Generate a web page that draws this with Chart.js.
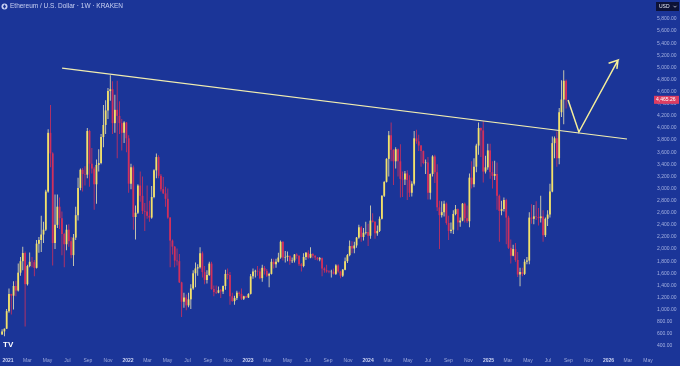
<!DOCTYPE html>
<html>
<head>
<meta charset="utf-8">
<script src="https://cdn.jsdelivr.net/npm/chart.js@4.4.1/dist/chart.umd.min.js"></script>
<style>
  html, body { margin: 0; padding: 0; background: #1b3598; }
  canvas { display: block; }
</style>
</head>
<body>
<canvas id="chart" width="680" height="366"></canvas>
<script>
// weekly ETH/USD candles (Kraken), first bar = week of 14 Dec 2020
const firstWeek = Date.UTC(2020, 11, 14);
const axisStart = Date.UTC(2021, 0, 1);
const firstOpen = 590;

const closes = [
  640, 685, 975,
  // 2021
  1260, 1230, 1390, 1315, 1610, 1800, 1935, 1420, 1720, 1790, 1785, 1690, 2090, 2150, 2240, 2320, 2950, 3920,
  3580, 2100, 2400, 2700, 2510, 2250, 2080, 2320, 2130, 1900, 2190, 2560, 3010, 3310, 3240, 3230, 3950, 3410,
  3330, 3070, 3390, 3420, 3850, 4050, 4290, 4610, 4640, 4080, 4300, 4200, 4080, 3920, 4090, 3830,
  // 2022
  3080, 3350, 2530, 2600, 3050, 2880, 2630, 2620, 2550, 2520, 2860, 3300, 3520, 3210, 2990, 2920, 2830, 2520,
  2140, 2040, 1810, 1800, 1450, 1130, 1200, 1070, 1170, 1350, 1600, 1680, 1700, 1930, 1620, 1490, 1570, 1760,
  1340, 1290, 1280, 1320, 1300, 1390, 1590, 1570, 1220, 1140, 1190, 1280, 1260, 1180, 1220, 1200,
  // 2023
  1260, 1550, 1630, 1640, 1630, 1520, 1690, 1640, 1560, 1590, 1790, 1750, 1790, 1860, 2120, 1860, 1870, 1890,
  1800, 1810, 1910, 1890, 1750, 1720, 1870, 1940, 1860, 1920, 1890, 1860, 1830, 1850, 1680, 1650, 1630, 1620,
  1625, 1590, 1730, 1630, 1560, 1660, 1800, 1900, 2050, 2010, 2060, 2190, 2360, 2200, 2270, 2280,
  // 2024
  2220, 2470, 2450, 2260, 2300, 2500, 2880, 3110, 3490, 3880, 3640, 3450, 3650, 3450, 3160, 3150, 3250, 3140,
  2930, 3080, 3830, 3780, 3710, 3620, 3420, 3430, 2930, 3240, 3530, 3270, 2690, 2560, 2610, 2750, 2430, 2300,
  2320, 2580, 2660, 2440, 2470, 2750, 2510, 2460, 3180, 3070, 3360, 3710, 4000, 3960, 3280, 3350, 3630,
  // 2025
  3270, 3210, 3240, 2880, 2630, 2660, 2810, 2520, 2020, 1890, 2000, 1820, 1580, 1620, 1590, 1790, 1810, 2520,
  2500, 2540, 2530, 2510, 2540, 2230, 2500, 2570, 2950, 3750, 3830, 3500, 4260, 4470, 4780, 4465.26
];

const highs = [
  675, 690, 1010,
  1350, 1260, 1470, 1475, 1760, 1870, 2040, 1960, 1740, 1945, 1870, 1820, 2150, 2200, 2550, 2450, 2980, 3980,
  4380, 3600, 2900, 2900, 2850, 2620, 2270, 2400, 2410, 2200, 2250, 2700, 3180, 3330, 3340, 3370, 4000, 3970,
  3670, 3360, 3480, 3650, 3900, 4380, 4460, 4660, 4870, 4770, 4550, 4780, 4440, 4150, 4110, 4100,
  3880, 3410, 3380, 2720, 3070, 3280, 3200, 2760, 3050, 2800, 3040, 3320, 3580, 3550, 3240, 3190, 3030, 3000,
  2530, 2160, 2050, 2010, 1920, 1460, 1280, 1250, 1280, 1420, 1650, 1780, 1750, 2030, 1960, 1720, 1650, 1790,
  1790, 1400, 1400, 1380, 1340, 1400, 1660, 1680, 1620, 1280, 1230, 1310, 1300, 1350, 1230, 1230,
  1270, 1590, 1680, 1660, 1720, 1680, 1740, 1720, 1670, 1610, 1840, 1840, 1840, 1940, 2140, 2130, 1970, 1960,
  1890, 1860, 1920, 1930, 1900, 1770, 1930, 1950, 1980, 2030, 1930, 1900, 1870, 1870, 1860, 1700, 1740, 1650,
  1660, 1680, 1750, 1750, 1640, 1670, 1860, 1920, 2140, 2130, 2120, 2200, 2400, 2380, 2350, 2450,
  2420, 2720, 2590, 2460, 2390, 2540, 2890, 3120, 3500, 3950, 4090, 3650, 3680, 3660, 3730, 3280, 3290, 3300,
  3220, 3120, 3950, 3970, 3890, 3720, 3630, 3480, 3520, 3250, 3550, 3560, 3400, 2800, 2790, 2800, 2770, 2550,
  2440, 2640, 2730, 2670, 2520, 2760, 2770, 2720, 3250, 3450, 3500, 3740, 4090, 4010, 4110, 3540, 3740,
  3740, 3450, 3460, 3430, 2900, 2800, 2850, 2830, 2550, 2160, 2070, 2100, 1950, 1690, 1690, 1830, 1870, 2610,
  2740, 2730, 2790, 2680, 2880, 2640, 2520, 2640, 3080, 3860, 3860, 3940, 4330, 4790, 4955, 4800
];

const lows = [
  585, 560, 680,
  950, 920, 1000, 1220, 1300, 1560, 1650, 720, 1400, 1700, 1700, 1550, 1680, 1940, 1950, 2100, 2300, 2930,
  3350, 1730, 2000, 2350, 2330, 1900, 1700, 1980, 2040, 1850, 1720, 2150, 2470, 2970, 2950, 3050, 3170, 3030,
  3250, 2650, 2750, 3280, 3400, 3680, 3900, 4150, 4450, 3900, 3920, 3500, 3900, 3630, 3750, 3600,
  2930, 2990, 2320, 2160, 2580, 2780, 2580, 2300, 2500, 2450, 2500, 2840, 3170, 3170, 2950, 2910, 2700, 2500,
  1700, 1910, 1700, 1730, 1440, 880, 1030, 990, 1040, 1010, 1330, 1370, 1560, 1680, 1530, 1420, 1430, 1560,
  1330, 1220, 1260, 1270, 1190, 1260, 1330, 1500, 1080, 1130, 1080, 1160, 1220, 1160, 1160, 1190,
  1190, 1250, 1510, 1530, 1560, 1500, 1460, 1580, 1540, 1370, 1580, 1680, 1690, 1780, 1840, 1810, 1780, 1800,
  1740, 1770, 1780, 1840, 1720, 1630, 1700, 1820, 1840, 1850, 1850, 1820, 1810, 1800, 1550, 1610, 1610, 1600,
  1530, 1580, 1570, 1610, 1520, 1540, 1650, 1770, 1880, 1930, 1930, 2020, 2170, 2120, 2140, 2240,
  2050, 2170, 2440, 2170, 2220, 2280, 2490, 2860, 3100, 3200, 3450, 3060, 3330, 3200, 2850, 2860, 3060, 2810,
  2860, 2870, 3050, 3740, 3620, 3360, 3400, 3240, 2820, 2820, 3200, 3090, 2630, 2000, 2520, 2540, 2400, 2150,
  2260, 2250, 2560, 2310, 2370, 2460, 2440, 2430, 2360, 3000, 3020, 3270, 3560, 3520, 3100, 3250, 3310,
  3160, 3000, 3140, 2650, 2120, 2560, 2620, 2080, 2000, 1760, 1880, 1790, 1540, 1385, 1550, 1570, 1750, 1750,
  2420, 2410, 2480, 2390, 2440, 2120, 2200, 2380, 2520, 2940, 3500, 3360, 3400, 4180, 4060, 4320
];

// bottom axis: one label every two months from Jan 2021
const tickLabels = [
  '2021', 'Mar', 'May', 'Jul', 'Sep', 'Nov',
  '2022', 'Mar', 'May', 'Jul', 'Sep', 'Nov',
  '2023', 'Mar', 'May', 'Jul', 'Sep', 'Nov',
  '2024', 'Mar', 'May', 'Jul', 'Sep', 'Nov',
  '2025', 'Mar', 'May', 'Jul', 'Sep', 'Nov',
  '2026', 'Mar', 'May'
];
const priceTicks = [
  400, 600, 800, 1000, 1200, 1400, 1600, 1800, 2000, 2200, 2400, 2600, 2800, 3000,
  3200, 3400, 3600, 3800, 4000, 4200, 4400, 4600, 4800, 5000, 5200, 5400, 5600, 5800
];

// drawings, in (weeks since 1 Jan 2021, price)
const trendLine = [{ x: 23.5, y: 4990 }, { x: 268.9, y: 3818 }];
const arrowPath = [
  { x: 243.3, y: 4462 }, { x: 248.0, y: 3934 }, { x: 265.0, y: 5123 },
  { x: 260.9, y: 5070 }, { x: 265.0, y: 5123 }, { x: 264.5, y: 4975 }
];

const WEEK = 7 * 864e5;
const UP = '#f3e169';
const UP_WICK = '#ece6b4';
const DOWN = '#d2305c';
const xOf = (t) => (t - axisStart) / WEEK;

const opens = closes.map((c, i) => (i === 0 ? firstOpen : closes[i - 1]));
const isUp = closes.map((c, i) => c >= opens[i]);
const bodyColors = isUp.map((u) => (u ? UP : DOWN));
const wickColors = isUp.map((u) => (u ? UP_WICK : DOWN));
const weekX = closes.map((c, i) => xOf(firstWeek + i * WEEK));
const wickData = closes.map((c, i) => ({ x: weekX[i], y: [lows[i], highs[i]] }));
const bodyData = closes.map((c, i) => ({ x: weekX[i], y: [opens[i], c] }));

const FONT = '"Liberation Sans", Arial, sans-serif';

// labels must not eat into the plot area
function noPadding(s) {
  s.paddingTop = 0;
  s.paddingBottom = 0;
  s.paddingLeft = 0;
  s.paddingRight = 0;
}

const overlay = {
  id: 'overlay',
  afterDraw(chart) {
    const ctx = chart.ctx;
    const yScale = chart.scales.y;
    ctx.save();

    // symbol title
    ctx.fillStyle = '#c9d1f3';
    ctx.beginPath();
    ctx.arc(4.5, 6.5, 3, 0, Math.PI * 2);
    ctx.fill();
    ctx.fillStyle = '#1b3598';
    ctx.beginPath();
    ctx.moveTo(4.5, 4.3); ctx.lineTo(6, 6.6); ctx.lineTo(4.5, 8.7); ctx.lineTo(3, 6.6);
    ctx.closePath();
    ctx.fill();
    ctx.fillStyle = '#c9d1f3';
    ctx.font = '6.5px ' + FONT;
    ctx.textBaseline = 'middle';
    ctx.textAlign = 'left';
    ctx.fillText('Ethereum / U.S. Dollar \u00b7 1W \u00b7 KRAKEN', 10, 6.7);

    // currency box
    ctx.fillStyle = '#0d1236';
    ctx.fillRect(656, 2, 23, 9);
    ctx.fillStyle = '#e6e9f5';
    ctx.font = '5px ' + FONT;
    ctx.fillText('USD', 659, 6.7);
    ctx.strokeStyle = '#e6e9f5';
    ctx.lineWidth = 0.7;
    ctx.beginPath();
    ctx.moveTo(673.5, 5.8); ctx.lineTo(675, 7.3); ctx.lineTo(676.5, 5.8);
    ctx.stroke();

    // last price tag
    const last = closes[closes.length - 1];
    const py = yScale.getPixelForValue(last);
    ctx.fillStyle = '#dc3d62';
    ctx.fillRect(654, py - 4, 25, 8);
    ctx.fillStyle = '#ffffff';
    ctx.font = '5px ' + FONT;
    ctx.fillText(last.toLocaleString('en-US', { minimumFractionDigits: 2 }), 656, py + 0.3);

    // TradingView mark
    ctx.fillStyle = '#ffffff';
    ctx.font = 'bold 8px ' + FONT;
    ctx.fillText('TV', 3, 345);
    ctx.restore();
  }
};

new Chart(document.getElementById('chart'), {
  type: 'bar',
  data: {
    datasets: [
      { type: 'line', data: trendLine, borderColor: '#f2eeb0', borderWidth: 1.2, pointRadius: 0 },
      { type: 'line', data: arrowPath, borderColor: '#f5ee9a', borderWidth: 1.5, pointRadius: 0, borderJoinStyle: 'miter' },
      { data: bodyData, backgroundColor: bodyColors, barThickness: 1.8, grouped: false, inflateAmount: 0, borderWidth: 0 },
      { data: wickData, backgroundColor: wickColors, barThickness: 0.8, grouped: false, inflateAmount: 0, borderWidth: 0 }
    ]
  },
  options: {
    responsive: false,
    animation: false,
    events: [],
    layout: { padding: 0 },
    plugins: { legend: { display: false }, tooltip: { enabled: false } },
    scales: {
      x: {
        type: 'linear',
        min: -3.475,
        max: 269.33,
        offset: false,
        grid: { display: false, drawTicks: false },
        border: { display: false },
        afterBuildTicks: (s) => {
          s.ticks = tickLabels.map((l, k) => ({ value: xOf(Date.UTC(2021, 2 * k, 1)) }));
        },
        afterFit: (s) => { s.height = 14; noPadding(s); },
        ticks: {
          autoSkip: false,
          maxRotation: 0,
          padding: 6,
          callback: (v, i) => tickLabels[i],
          color: (c) => (/^\d/.test(tickLabels[c.index]) ? '#cdd4f4' : '#9fabdc'),
          font: (c) => ({ family: FONT, size: 5, weight: /^\d/.test(tickLabels[c.index]) ? 'bold' : 'normal' })
        }
      },
      y: {
        position: 'right',
        min: 300,
        max: 6114,
        grid: { display: false, drawTicks: false },
        border: { display: false },
        afterBuildTicks: (s) => { s.ticks = priceTicks.map((v) => ({ value: v })); },
        afterFit: (s) => { s.width = 52; noPadding(s); },
        ticks: {
          padding: 29,
          color: '#a6b2e2',
          font: { family: FONT, size: 5 },
          callback: (v) => v.toLocaleString('en-US', { minimumFractionDigits: 2, maximumFractionDigits: 2 })
        }
      }
    }
  },
  plugins: [overlay]
});
</script>
</body>
</html>
